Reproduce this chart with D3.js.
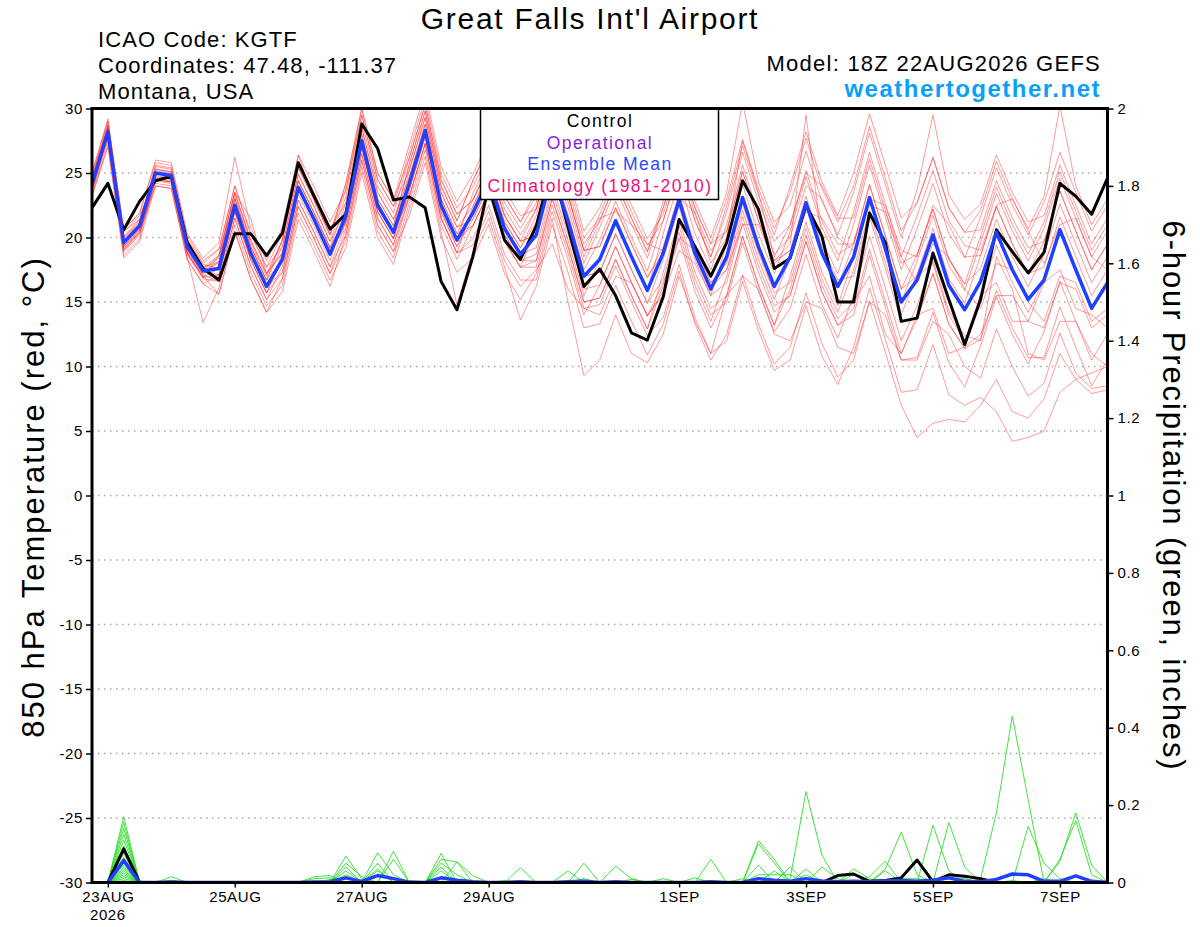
<!DOCTYPE html>
<html><head><meta charset="utf-8">
<script src="https://cdn.jsdelivr.net/npm/d3@7"></script>
<style>
body{margin:0;background:#fff}
svg{display:block}
text{font-family:"Liberation Sans",Arial,Helvetica,sans-serif}
</style>
</head><body>
<svg id="chart" width="1200" height="927"></svg>
<script>
// ---------- DATA ----------
const runStartUTC = Date.UTC(2026, 7, 22, 18); // 18Z 22AUG2026, 6-hourly steps
const stepHours = 6;

const tempTicks = [30,25,20,15,10,5,0,-5,-10,-15,-20,-25,-30];
const precipTicks = [2,1.8,1.6,1.4,1.2,1,0.8,0.6,0.4,0.2,0];
const xTickLabels = ["23AUG","25AUG","27AUG","29AUG","1SEP","3SEP","5SEP","7SEP"];
const xTickSteps  = [1, 9, 17, 25, 37, 45, 53, 61];

// 850 hPa temperature (C), steps 0..64
const tempMean = [24.1,28.2,19.6,20.9,25.0,24.8,19.3,17.4, 17.6,22.5,18.8,16.2,18.3,23.9,21.4,18.7,
 21.7,27.5,22.5,20.4,24.2,28.3,22.5,19.8, 21.9,24.5,20.7,18.7,20.2,25.0,21.3,17.0,
 18.3,21.3,18.5,15.9,18.8,22.9,18.8,16.0, 18.5,23.1,19.3,16.2,18.5,22.7,18.8,16.2,
 18.5,23.1,19.1,15.0,16.7,20.2,16.3,14.4, 16.6,20.4,17.5,15.2,16.7,20.6,17.5,14.5, 16.5];
const tempControl = [22.3,24.2,20.6,22.8,24.4,24.75,19.6,17.6, 16.7,20.3,20.3,18.6,20.35,25.8,23.2,20.65,
 21.8,28.8,26.9,22.9,23.15,22.3,16.6,14.4, 18.5,24.0,19.8,18.3,20.9,25.5,20.8,16.2,
 17.55,15.5,12.6,12.05,15.4,21.4,19.3,17.0, 19.6,24.4,22.2,17.6,18.4,22.5,20.1,15.0,
 15.0,21.9,19.6,13.5,13.75,18.8,15.2,11.7, 15.2,20.6,18.9,17.25,18.85,24.2,23.2,21.8, 24.6];

const tm01 = [24.6,28.7,20.5,21.4,25.3,25.1,19.6,17.7, 18.6,23.5,19.8,17.2,19.8,25.4,22.9,20.2, 23.7,29.5,24.5,22.4,26.7,30.8,25.0,22.3, 23.9,26.5,22.7,20.7,22.7,27.5,23.8,19.5, 21.3,24.3,21.5,18.9,22.3,26.4,22.3,19.5, 23.0,27.6,23.8,20.7,23.5,27.7,23.8,21.2, 24.0,28.6,24.6,20.5,22.7,26.2,22.3,20.4, 22.1,25.9,23.0,20.7,23.2,30.2,24.0,21.0, 23.0];
const tm02 = [23.6,27.7,19.1,20.4,24.2,24.0,18.5,13.4, 16.1,21.0,17.3,14.7,16.3,21.9,19.4,16.7, 19.2,25.0,20.0,17.9,22.2,26.3,20.5,14.8, 18.9,21.5,17.7,13.6,16.2,21.0,17.3,13.0, 13.3,16.3,13.5,10.9,13.3,17.4,13.3,10.5, 12.5,17.1,13.3,10.2,11.5,15.7,11.8,9.2, 10.5,15.1,11.1,7.0,4.5,5.6,5.9,5.7, 7.0,9.0,6.5,6.0,7.5,11.0,9.0,7.9, 8.2];
const tm03 = [25.1,29.0,20.6,21.9,25.8,25.6,20.1,18.2, 19.1,24.0,20.3,17.7,19.3,24.9,22.4,19.7, 22.2,28.0,23.0,20.9,25.7,29.8,24.0,21.3, 24.4,27.0,23.2,21.2,23.2,28.0,24.3,20.0, 21.5,22.0,21.0,19.5,19.0,23.0,22.0,18.0, 20.0,27.5,23.5,18.5,21.0,25.0,24.0,21.5, 21.5,26.1,22.1,18.0,18.7,22.2,18.3,16.4, 20.1,23.9,21.0,18.7,21.2,25.1,22.0,19.0, 21.0];
const tm04 = [23.1,27.2,18.6,19.9,24.5,24.3,18.8,16.9, 17.1,22.0,18.3,15.7,18.8,24.4,21.9,19.2, 22.7,28.5,23.5,21.4,24.7,28.8,23.0,20.3, 20.9,23.5,19.7,17.7,18.2,23.0,19.3,15.0, 15.3,18.3,15.5,12.9,16.3,20.4,16.3,13.5, 17.0,21.6,17.8,14.7,15.5,19.7,15.8,13.2, 14.0,18.6,14.6,10.5,10.7,14.2,10.3,8.4, 11.6,15.4,12.5,10.2,12.7,16.6,13.5,10.5, 12.5];
const tm05 = [24.3,28.4,19.8,21.1,25.5,25.3,19.8,17.9, 17.6,22.5,18.8,16.2,17.3,22.9,20.4,17.7, 20.2,26.0,21.0,18.9,21.7,25.8,20.0,17.3, 18.4,21.0,17.2,15.2,17.2,22.0,18.3,14.0, 16.3,19.3,16.5,13.9,16.5,20.0,19.0,16.5, 17.5,21.0,21.0,18.0,19.0,22.0,21.5,19.5, 19.5,23.0,22.5,19.0,18.5,22.5,21.0,18.5, 18.6,22.4,19.5,17.2,17.7,21.6,18.5,15.5, 17.5];
const tm06 = [23.8,27.9,19.3,20.6,25.0,24.8,19.3,17.4, 18.1,23.0,19.3,16.7,19.3,24.9,22.4,19.7, 23.2,29.0,24.0,21.9,26.2,30.3,24.5,21.8, 22.9,25.5,21.7,19.7,20.2,25.0,21.3,17.0, 17.3,20.3,17.5,14.9,16.8,20.9,16.8,14.0, 15.0,19.6,15.8,12.7,14.5,18.7,14.8,12.2, 15.5,20.1,16.1,12.0,14.7,18.2,14.3,12.4, 12.0,18.5,16.0,11.0,10.5,13.5,13.5,11.0, 10.0];
const tm07 = [24.9,29.2,20.6,21.9,26.0,25.8,20.3,18.4, 19.6,26.2,20.8,18.2,20.8,26.4,23.9,21.2, 23.7,29.5,24.5,22.4,25.2,29.3,23.5,20.8, 22.4,25.0,21.2,19.2,21.7,26.5,22.8,18.5, 21.3,24.3,21.5,18.9,22.8,26.9,22.8,20.0, 23.5,30.5,24.3,21.2,22.5,26.7,22.8,20.2, 23.5,28.1,24.1,20.0,23.7,29.5,23.3,21.4, 22.6,26.4,23.5,21.2,21.7,25.6,22.5,19.5, 21.5];
const tm08 = [23.3,27.0,18.4,19.7,24.0,23.8,18.3,16.4, 15.6,20.5,16.8,14.2,16.8,22.4,19.9,17.2, 20.7,26.5,21.5,19.4,23.7,27.8,22.0,19.3, 21.9,24.5,20.7,18.7,19.2,24.0,20.3,16.0, 16.3,19.3,16.5,13.9,15.8,19.9,15.8,13.0, 15.5,17.0,16.0,12.5,12.0,15.0,14.5,11.5, 11.0,15.0,14.0,10.5,10.5,13.5,12.5,10.0, 9.1,12.9,10.0,7.7,8.7,12.6,9.5,8.3, 8.5];
const tm09 = [24.1,28.2,19.6,20.9,25.3,25.1,19.6,17.7, 18.1,23.0,19.3,16.7,18.3,23.9,21.4,18.7, 21.2,27.0,22.0,19.9,24.2,28.3,22.5,19.8, 23.4,26.0,22.2,20.2,22.2,27.0,23.3,19.0, 19.3,22.3,19.5,16.9,18.8,22.9,18.8,16.0, 17.5,22.1,18.3,15.2,18.5,22.7,18.8,16.2, 19.5,24.1,20.1,16.0,18.7,22.2,18.3,16.4, 17.6,21.4,18.5,16.2,18.7,22.6,19.5,16.5, 18.5];
const tm10 = [24.5,28.6,19.3,20.6,24.7,24.5,19.0,17.1, 16.6,21.5,17.8,15.2,17.8,23.4,20.9,18.2, 21.7,27.5,22.5,20.4,25.2,29.3,23.5,20.8, 21.4,24.0,20.2,18.2,18.7,23.5,19.8,15.5, 18.3,21.3,18.5,15.9,20.3,24.4,20.3,17.5, 21.0,25.6,21.8,18.7,20.0,24.0,23.0,20.0, 19.0,22.5,22.0,18.5,16.5,19.5,18.5,16.0, 14.5,18.0,17.5,15.0,13.5,17.0,16.5,13.5, 14.5];
const tm11 = [23.6,28.0,19.4,20.7,24.8,24.6,19.1,17.2, 18.1,23.0,19.3,16.7,19.8,26.4,22.9,20.2, 24.2,30.0,25.0,22.9,27.2,31.3,25.5,22.8, 24.9,27.5,23.7,21.7,22.2,27.0,23.3,19.0, 19.3,22.3,19.5,16.9,19.3,23.4,19.3,16.5, 18.0,22.6,18.8,15.7,16.5,20.7,16.8,14.2, 17.5,22.1,18.1,14.0,17.2,20.7,16.8,14.9, 18.6,22.4,19.5,17.2,19.7,23.6,20.5,17.5, 19.5];
const tm12 = [24.7,29.0,20.4,21.7,24.5,24.3,18.8,16.9, 18.6,23.5,21.5,17.2,18.8,24.4,21.9,19.2, 20.7,26.5,21.5,19.4,23.2,27.3,21.5,18.8, 19.9,22.5,18.7,16.7,16.7,21.5,15.0,9.3, 10.5,14.0,11.0,10.3,12.5,17.0,13.5,11.0, 15.5,20.1,16.3,13.2,17.0,21.2,17.3,14.7, 18.5,23.1,19.1,15.0,18.2,21.7,17.8,15.9, 19.6,23.4,20.5,18.2,20.7,24.6,21.5,18.5, 20.5];
const tm13 = [23.9,28.0,19.0,20.3,24.4,24.2,18.7,16.8, 16.6,21.5,17.8,15.2,16.8,22.4,19.9,17.2, 19.7,25.5,20.5,18.4,22.7,26.8,21.0,18.3, 20.9,23.5,19.7,17.7,20.7,25.5,21.8,17.5, 19.8,22.8,20.0,17.4,21.3,25.4,21.3,18.5, 22.0,26.6,22.8,19.7,21.0,25.2,21.3,18.7, 19.5,24.1,20.1,16.0,17.0,18.0,14.0,12.0, 15.5,16.5,13.5,13.5,16.5,17.5,14.5,14.0, 13.0];
const tm14 = [24.4,28.5,19.9,21.2,25.6,25.4,19.9,18.0, 19.1,24.0,20.3,17.7,20.3,25.9,23.4,20.7, 22.7,28.5,23.5,21.4,24.2,28.3,22.5,19.8, 20.9,23.5,19.7,17.7,17.7,22.5,18.8,14.5, 14.8,17.8,15.0,12.4,13.8,17.9,13.8,11.0, 12.0,16.6,12.8,9.7,10.5,14.7,10.8,8.6, 11.5,16.1,12.1,8.0,8.2,11.7,7.8,7.0, 7.6,6.5,4.2,4.5,5.0,8.0,9.0,9.5, 10.0];
const tm15 = [23.4,27.5,18.9,20.2,24.5,24.3,18.8,16.9, 17.6,22.5,18.8,16.2,18.3,23.9,21.4,18.7, 22.2,28.0,23.0,20.9,25.7,29.8,24.0,21.3, 24.4,27.0,23.2,21.2,23.7,28.5,24.8,20.5, 22.3,25.3,22.5,19.9,21.8,25.9,21.8,19.0, 20.5,25.1,21.3,18.2,19.5,29.5,19.8,17.2, 21.0,25.6,21.6,17.5,20.7,24.2,20.3,18.4, 21.6,25.4,22.5,20.2,22.7,26.6,23.5,20.5, 22.5];
const tm16 = [24.6,28.7,20.1,21.4,25.0,24.8,19.3,17.4, 17.1,22.0,18.3,15.7,17.3,22.9,20.4,17.7, 21.2,27.0,22.0,19.9,24.7,28.8,23.0,20.3, 22.9,25.5,21.7,19.7,20.2,25.0,21.3,17.0, 17.3,20.3,17.5,14.9,18.3,22.4,18.3,15.5, 19.5,24.1,20.3,17.2,20.5,24.7,20.8,18.2, 22.0,26.6,22.6,18.5,21.7,25.2,21.3,19.4, 19.0,22.5,23.0,20.5,18.0,21.0,21.5,18.5, 17.5];
const tm17 = [23.7,28.6,20.0,21.3,25.0,24.8,19.3,17.4, 18.6,23.5,19.8,17.2,18.8,24.4,21.9,19.2, 21.7,27.5,22.5,20.4,23.2,27.3,21.5,18.8, 19.4,22.0,18.2,16.2,17.5,19.5,16.0,14.5, 14.0,17.0,16.5,14.0,15.5,19.0,18.0,15.5, 16.5,21.1,17.3,14.2,15.5,19.7,15.8,13.2, 14.5,19.1,15.1,11.0,13.7,17.2,13.3,11.4, 15.6,19.4,16.5,14.2,16.7,20.6,17.5,14.5, 16.5];
const tm18 = [24.3,27.8,19.2,20.5,24.6,24.4,18.9,17.0, 15.6,20.5,16.8,14.2,15.8,21.4,18.9,16.2, 20.2,26.0,21.0,18.9,23.2,27.3,21.5,18.8, 22.4,25.0,21.2,19.2,21.2,26.0,22.3,18.0, 20.8,23.8,21.0,18.4,22.3,26.4,22.3,19.5, 20.5,25.1,21.3,18.2,19.0,23.2,19.3,16.7, 17.0,21.6,17.6,13.5,13.7,17.2,13.3,11.4, 12.1,15.9,13.0,10.7,10.7,14.6,11.5,8.5, 10.5];
const tm19 = [24.0,28.4,19.8,21.1,25.2,25.0,19.5,17.6, 18.4,23.3,19.6,17.0,19.8,25.4,22.9,20.2, 24.2,30.0,25.0,22.9,26.2,30.3,24.5,21.8, 22.9,25.5,21.7,19.7,22.2,27.0,23.3,19.0, 21.8,24.8,22.0,19.4,21.3,25.4,21.3,18.5, 22.5,27.1,23.3,20.2,24.0,28.2,24.3,21.7, 25.0,29.6,25.6,21.5,22.7,26.2,22.3,20.4, 20.6,24.4,21.5,19.2,19.7,23.6,20.5,17.5, 19.5];
const tm20 = [24.2,28.1,19.1,20.4,24.0,23.8,18.3,16.4, 17.1,22.0,18.3,15.7,18.3,23.9,21.4,18.7, 21.2,27.0,22.0,19.9,23.7,27.8,22.0,19.3, 21.4,24.0,20.2,18.2,18.2,23.0,19.3,15.0, 15.3,18.3,15.5,12.9,17.3,21.4,17.3,14.5, 15.5,20.1,16.3,13.2,16.0,20.2,16.3,13.7, 15.0,17.0,12.5,11.0,14.0,14.5,11.0,11.5, 12.5,15.5,15.5,13.5,13.0,16.5,16.0,13.0, 14.0];

// 6-hour precipitation (inches), steps 1..64 (00Z 23AUG onward)
const precipMean = [0,0.057,0,0,0.001,0,0,0, 0,0,0,0,0,0.001,0.002,0.012, 0.003,0.018,0.01,0.001,0,0.012,0.006,0.002, 0,0,0.002,0,0,0.002,0.003,0, 0.002,0,0,0,0,0,0.002,0, 0,0.01,0.006,0.003,0.01,0.004,0.002,0.003, 0.002,0.004,0.005,0.003,0.006,0.012,0.003,0.002, 0.008,0.022,0.02,0.003,0.003,0.017,0.003,0];
const precipControl = [0,0.087,0,0,0,0,0,0, 0,0,0,0,0,0,0,0, 0,0,0,0,0,0,0,0, 0,0,0,0,0,0,0,0, 0,0,0,0,0,0,0,0, 0,0,0,0,0,0,0.018,0.022, 0.003,0.005,0.012,0.058,0.002,0.02,0.016,0.01, 0,0,0,0,0,0,0,0];
const pm01 = [0,0.17,0,0,0,0,0,0, 0,0,0,0,0,0.015,0.018,0, 0,0,0,0,0,0.075,0,0, 0,0,0,0,0,0,0,0, 0,0,0,0.01,0,0,0,0, 0,0,0,0,0,0,0,0, 0,0,0.01,0.01,0,0,0,0, 0,0,0,0,0,0,0,0];
const pm02 = [0,0.155,0,0,0,0,0,0, 0,0,0,0,0,0,0,0.068, 0.01,0,0,0,0,0,0,0, 0,0,0,0,0,0,0,0, 0.042,0.01,0,0,0,0,0,0, 0,0,0,0,0,0,0,0, 0,0,0,0,0.01,0,0,0, 0,0,0,0,0,0,0,0];
const pm03 = [0,0.14,0,0,0.015,0,0,0, 0,0,0,0,0,0,0,0, 0,0.077,0.02,0,0,0,0,0, 0,0,0,0,0,0,0,0, 0,0,0,0,0,0,0,0, 0,0,0.03,0,0,0,0,0, 0,0,0,0,0,0.012,0.01,0, 0,0,0,0,0,0,0,0];
const pm04 = [0,0.125,0,0,0,0,0,0, 0,0,0,0,0,0,0,0.05, 0.015,0,0,0,0,0,0,0, 0,0,0,0,0,0,0,0, 0,0,0,0,0,0.012,0,0, 0,0,0,0,0,0,0,0, 0,0,0,0,0,0,0,0, 0,0.005,0,0,0,0,0,0];
const pm05 = [0,0.11,0,0,0,0,0,0, 0,0,0,0,0,0.01,0.012,0, 0,0,0,0,0,0.06,0.053,0, 0,0,0,0,0,0,0,0, 0,0,0,0,0,0,0,0, 0.01,0,0,0,0,0,0,0, 0,0,0,0,0,0,0,0, 0,0,0,0.01,0,0,0,0];
const pm06 = [0,0.095,0,0,0,0,0,0, 0,0,0,0,0,0,0,0.04, 0,0.05,0,0,0,0,0,0, 0,0,0,0,0,0,0.01,0, 0,0,0,0,0,0,0,0, 0,0.108,0.06,0,0,0,0,0, 0,0,0,0,0,0,0,0, 0,0,0,0,0.06,0.16,0.02,0];
const pm07 = [0,0.085,0,0,0.006,0,0,0, 0,0,0,0,0,0,0,0, 0,0,0.081,0,0,0,0,0, 0,0,0,0,0,0,0,0, 0,0,0,0,0,0,0,0, 0,0.1,0.05,0,0,0,0,0, 0,0,0,0,0,0,0,0, 0,0,0,0,0,0,0,0];
const pm08 = [0,0.075,0,0,0,0,0,0, 0,0,0,0,0,0,0,0.03, 0,0,0,0,0,0,0,0, 0,0.005,0,0,0,0,0,0, 0,0,0,0,0,0,0,0, 0,0,0,0.04,0,0,0,0, 0,0,0,0,0,0,0,0, 0,0,0,0,0,0,0,0];
const pm09 = [0,0.065,0,0,0,0,0,0, 0,0,0,0,0,0,0.008,0, 0,0,0,0,0,0.05,0.02,0, 0,0,0,0,0,0,0,0, 0,0,0,0,0,0,0,0, 0,0,0,0.01,0.235,0.071,0,0, 0,0,0,0,0,0,0,0, 0,0,0,0,0,0,0,0];
const pm10 = [0,0.055,0,0,0,0,0,0, 0,0,0,0,0,0,0,0.02, 0,0,0,0,0,0,0,0, 0,0,0.038,0,0,0,0,0, 0,0,0,0,0,0,0,0, 0,0,0,0,0.035,0,0,0, 0,0,0,0,0,0,0,0, 0,0,0,0,0,0,0,0];
const pm11 = [0,0.05,0,0,0,0,0,0, 0,0,0,0,0,0,0,0, 0.005,0,0,0,0,0.04,0,0, 0,0,0,0,0,0,0,0, 0,0,0,0,0,0,0.06,0, 0,0,0,0,0,0,0,0, 0,0,0,0,0,0,0,0, 0,0,0,0,0,0,0,0];
const pm12 = [0,0.045,0,0,0,0,0,0, 0,0,0,0,0,0,0,0.015, 0,0,0,0,0,0,0.053,0.018, 0,0,0,0,0,0,0,0, 0,0,0,0,0,0,0,0, 0,0,0,0,0,0.04,0.01,0, 0,0,0,0,0,0,0,0, 0,0,0,0,0,0,0,0];
const pm13 = [0,0.04,0,0,0,0,0,0, 0,0,0,0,0,0,0,0, 0,0.035,0,0,0,0,0,0, 0,0,0,0,0,0.03,0,0, 0,0,0,0,0,0,0,0, 0,0,0,0,0,0,0,0.035, 0.01,0,0,0,0,0,0,0, 0,0,0,0,0,0,0,0];
const pm14 = [0,0.035,0,0,0,0,0,0, 0,0,0,0,0,0,0,0, 0,0.03,0,0,0,0,0,0, 0,0,0,0,0,0,0.05,0, 0,0,0,0,0,0,0,0, 0,0,0,0,0,0,0,0, 0.015,0.055,0,0,0,0,0,0, 0,0,0,0,0,0,0,0];
const pm15 = [0,0.03,0,0,0,0,0,0, 0,0,0,0,0,0,0,0, 0,0,0.06,0,0,0,0,0, 0,0,0,0,0,0,0,0, 0,0,0,0,0,0,0,0, 0,0,0,0,0,0,0,0, 0,0.035,0.13,0.02,0,0,0,0, 0,0,0,0,0,0,0,0];
const pm16 = [0,0.025,0,0,0,0,0,0, 0,0,0,0,0,0,0,0, 0,0,0,0,0,0.03,0,0, 0,0,0,0,0,0,0,0, 0,0,0,0,0,0,0,0, 0,0.045,0,0,0,0,0,0, 0,0,0,0,0.148,0.03,0,0, 0,0,0,0,0,0,0,0];
const pm17 = [0,0.02,0,0,0,0,0,0, 0,0,0,0,0,0,0,0, 0,0,0,0,0,0,0,0, 0,0,0,0,0,0,0,0, 0,0.008,0,0,0,0,0,0, 0,0,0,0,0,0,0,0, 0,0,0,0,0,0.155,0.04,0, 0,0,0,0,0,0,0,0];
const pm18 = [0,0.015,0,0,0,0,0,0, 0,0,0,0,0,0,0,0, 0,0,0,0,0,0,0,0, 0,0,0,0,0,0,0,0, 0,0,0,0,0,0,0,0, 0,0.02,0.02,0.02,0,0,0,0, 0,0,0,0,0,0,0,0.01, 0.18,0.43,0.214,0,0,0,0,0];
const pm19 = [0,0.01,0,0,0,0,0,0, 0,0,0,0,0,0,0,0, 0,0,0,0,0,0,0,0, 0,0,0,0,0,0,0,0, 0,0,0,0,0,0,0,0, 0,0,0,0,0.02,0,0,0, 0,0,0,0,0,0,0,0, 0,0,0.145,0.05,0.01,0,0,0];
const pm20 = [0,0.005,0,0,0,0,0,0, 0,0,0,0,0,0,0,0, 0,0,0,0,0,0,0,0, 0,0,0,0,0,0,0,0, 0,0,0,0,0,0,0,0, 0,0,0,0,0,0,0,0.02, 0,0.03,0,0,0,0,0,0, 0,0,0,0,0.055,0.18,0.045,0];

const tempMembers = [tm01,tm02,tm03,tm04,tm05,tm06,tm07,tm08,tm09,tm10,tm11,tm12,tm13,tm14,tm15,tm16,tm17,tm18,tm19,tm20];
const precipMembers = [pm01,pm02,pm03,pm04,pm05,pm06,pm07,pm08,pm09,pm10,pm11,pm12,pm13,pm14,pm15,pm16,pm17,pm18,pm19,pm20];

// ---------- CHART ----------
const svg = d3.select("#chart");
svg.append("rect").attr("width",1200).attr("height",927).attr("fill","#fff");
const P = {left:92, right:1107.5, top:108.5, bottom:882.5};
const stepDate = s => new Date(runStartUTC + s*stepHours*3600e3);

const x = d3.scaleUtc().domain([stepDate(0), stepDate(64)]).range([P.left, P.right]);
const yT = d3.scaleLinear().domain([-30,30]).range([P.bottom, P.top]);
const yP = d3.scaleLinear().domain([0,2]).range([P.bottom, P.top]);

svg.append("clipPath").attr("id","plotclip").append("rect")
  .attr("x",P.left).attr("y",P.top).attr("width",P.right-P.left).attr("height",P.bottom-P.top);

// gridlines
svg.append("g").selectAll("line").data(tempTicks.filter(v=>v>-30&&v<30)).join("line")
  .attr("x1",P.left).attr("x2",P.right).attr("y1",d=>yT(d)).attr("y2",d=>yT(d))
  .attr("stroke","#a8a8a8").attr("stroke-width",1.3).attr("stroke-dasharray","1.5 4.5");

const plot = svg.append("g").attr("clip-path","url(#plotclip)");
const lineT = d3.line().x((d,i)=>x(stepDate(i))).y(d=>yT(d));
const lineP = d3.line().x((d,i)=>x(stepDate(i+1))).y(d=>yP(d));

plot.append("g").selectAll("path").data(tempMembers).join("path")
  .attr("d",lineT).attr("fill","none").attr("stroke","#ff3030").attr("stroke-opacity",0.55).attr("stroke-width",0.9);
plot.append("g").selectAll("path").data(precipMembers).join("path")
  .attr("d",lineP).attr("fill","none").attr("stroke","#22dd22").attr("stroke-opacity",0.85).attr("stroke-width",1);

plot.append("path").datum(tempControl).attr("d",lineT).attr("fill","none")
  .attr("stroke","#000").attr("stroke-width",3).attr("stroke-linejoin","round");
plot.append("path").datum(tempMean).attr("d",lineT).attr("fill","none")
  .attr("stroke","#2040ff").attr("stroke-width",3.5).attr("stroke-linejoin","round");
plot.append("path").datum(precipControl).attr("d",lineP).attr("fill","none")
  .attr("stroke","#000").attr("stroke-width",3).attr("stroke-linejoin","round");
plot.append("path").datum(precipMean).attr("d",lineP).attr("fill","none")
  .attr("stroke","#2040ff").attr("stroke-width",3.5).attr("stroke-linejoin","round");

// legend box
const lg = svg.append("g");
lg.append("rect").attr("x",480.5).attr("y",108.5).attr("width",238).attr("height",91)
  .attr("fill","#fff").attr("stroke","#000").attr("stroke-width",1.5);
const legendItems = [["Control","#000"],["Operational","#8a1fd8"],["Ensemble Mean","#2a48ff"],["Climatology (1981-2010)","#e8137c"]];
lg.selectAll("text").data(legendItems).join("text")
  .attr("x",600).attr("y",(d,i)=>127+i*21.6).attr("text-anchor","middle")
  .attr("font-size",17.5).attr("letter-spacing",1.45).attr("fill",d=>d[1]).text(d=>d[0]);

// axes
const axL = svg.append("g").attr("transform",`translate(${P.left},0)`)
  .call(d3.axisLeft(yT).tickValues(tempTicks).tickSize(6).tickPadding(3).tickFormat(d=>String(d)));
const axR = svg.append("g").attr("transform",`translate(${P.right},0)`)
  .call(d3.axisRight(yP).tickValues(precipTicks).tickSize(6).tickPadding(4).tickFormat(d=>String(+d.toFixed(1))));
const axB = svg.append("g").attr("transform",`translate(0,${P.bottom})`)
  .call(d3.axisBottom(x).tickValues(xTickSteps.map(stepDate)).tickSize(5).tickPadding(4)
    .tickFormat((d,i)=>xTickLabels[i]));
[axL,axR,axB].forEach(a=>{
  a.select(".domain").remove();
  a.selectAll(".tick line").attr("stroke","#000").attr("stroke-width",1.5);
  a.selectAll(".tick text").attr("font-size",15).attr("fill","#000")
    .attr("font-family",'"Liberation Sans",Arial,sans-serif').attr("letter-spacing",0.6);
});
svg.append("text").attr("x",x(stepDate(1))).attr("y",920).attr("text-anchor","middle")
  .attr("font-size",15).attr("letter-spacing",0.6).text("2026");

// frame
svg.append("rect").attr("x",P.left).attr("y",P.top).attr("width",P.right-P.left).attr("height",P.bottom-P.top)
  .attr("fill","none").attr("stroke","#000").attr("stroke-width",3);

// titles
svg.append("text").attr("x",590).attr("y",29).attr("text-anchor","middle")
  .attr("font-size",30).attr("letter-spacing",1.7).text("Great Falls Int'l Airport");
const hdr = [["ICAO Code: KGTF",47],["Coordinates: 47.48, -111.37",73],["Montana, USA",99]];
svg.selectAll(".hdr").data(hdr).join("text").attr("class","hdr")
  .attr("x",98).attr("y",d=>d[1]).attr("font-size",22).attr("letter-spacing",1.1).text(d=>d[0]);
svg.append("text").attr("x",1101).attr("y",71).attr("text-anchor","end")
  .attr("font-size",22).attr("letter-spacing",1.25).text("Model: 18Z 22AUG2026 GEFS");
svg.append("text").attr("x",1101).attr("y",97).attr("text-anchor","end")
  .attr("font-size",24).attr("font-weight","bold").attr("letter-spacing",1.5)
  .attr("fill","#0aa0f5").text("weathertogether.net");

svg.append("text").attr("transform","translate(44,497) rotate(-90)").attr("text-anchor","middle")
  .attr("font-size",31).attr("letter-spacing",2.0).text("850 hPa Temperature (red, \u00B0C)");
svg.append("text").attr("transform","translate(1163,496) rotate(90)").attr("text-anchor","middle")
  .attr("font-size",31).attr("letter-spacing",1.85).text("6-hour Precipitation (green, inches)");
</script>
</body></html>
